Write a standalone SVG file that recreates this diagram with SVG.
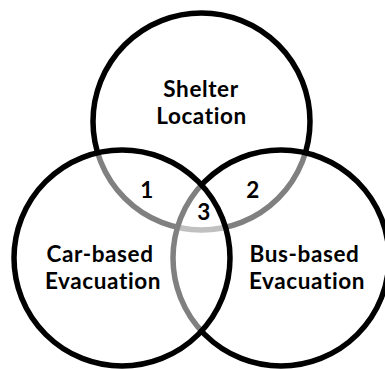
<svg xmlns="http://www.w3.org/2000/svg" width="385" height="369" viewBox="0 0 385 369">
<style>
.c{fill:#fff;fill-opacity:0.5;stroke:#000;stroke-width:5.5}
.t{font-family:Lato,"Open Sans","DejaVu Sans",sans-serif;font-weight:bold;font-size:22.5px;letter-spacing:0.6px;font-variant-ligatures:none;fill:#000;text-anchor:middle}
</style>
<rect width="385" height="369" fill="#fff"/>
<g id="shelter">
<circle class="c" cx="201.5" cy="121.5" r="108.5"/>
</g>
<g id="bus">
<circle class="c" cx="281" cy="258" r="108"/>
</g>
<g id="car">
<circle class="c" cx="122" cy="258" r="108"/>
</g>
<g id="labels">
<text class="t" x="201" y="97">Shelter</text>
<text class="t" x="201.5" y="124">Location</text>
<text class="t" x="100" y="262">Car-based</text>
<text class="t" x="103" y="289">Evacuation</text>
<text class="t" x="304.5" y="262">Bus-based</text>
<text class="t" x="307" y="289">Evacuation</text>
<text class="t" x="147" y="198">1</text>
<text class="t" x="253" y="198">2</text>
<text class="t" x="204" y="220">3</text>
</g>
</svg>
